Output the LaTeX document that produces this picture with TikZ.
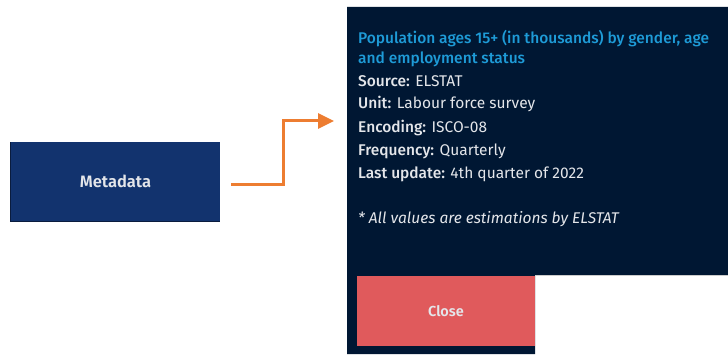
\documentclass[tikz,border=0pt]{standalone}
\usepackage{fontspec}
\setmainfont{Fira Sans}[BoldFont={Fira Sans Medium}, BoldItalicFont={Fira Sans Medium Italic}]
\newfontfamily\semibold{Fira Sans SemiBold}
\usepackage{xcolor}
\usetikzlibrary{arrows.meta,positioning}

\definecolor{navy}{HTML}{001733}
\definecolor{btnblue}{HTML}{12336E}
\definecolor{btnshade}{HTML}{0A1C3E}
\definecolor{closered}{HTML}{E05A5C}
\definecolor{titleblue}{HTML}{1E9BD7}
\definecolor{arroworange}{HTML}{ED7D31}
\definecolor{lighttext}{HTML}{E4E6EA}

\tikzset{
  infoline/.style={anchor=base west, inner sep=0pt, text=lighttext, font=\fontsize{15.5}{18}\selectfont},
  titleline/.style={infoline, text=titleblue, font=\fontsize{15.5}{18}\selectfont\bfseries},
}

\begin{document}
\begin{tikzpicture}[x=1pt,y=1pt]
        \useasboundingbox (0,0) rectangle (728,354);
        % metadata button
        \fill[btnshade] (10,132) rectangle (220,212);
        \node[fill=btnblue, minimum width=209pt, minimum height=78pt, inner sep=0pt,
              text=lighttext, font=\fontsize{16.5}{18}\selectfont\semibold] (meta) at (115.5,172.5) {Metadata};
        % pop-up panel
        \fill[navy] (347,0) -- (347,347) -- (728,347) -- (728,79) -- (535,79) -- (535,0) -- cycle;
        \draw[gray!40] (535,79) -- (728,79);
        \node[titleline] (title1) at (358,310) {Population ages 15+ (in thousands) by gender, age};
        \node[titleline] (title2) at (358,290) {and employment status};
        \node[infoline] (src) at (358,267) {\textbf{Source:} ELSTAT};
        \node[infoline] (unit) at (358,245) {\textbf{Unit:} Labour force survey};
        \node[infoline] (enc) at (358,222) {\textbf{Encoding:} ISCO-08};
        \node[infoline] (freq) at (358,199) {\textbf{Frequency:} Quarterly};
        \node[infoline] (upd) at (358,176) {\textbf{Last update:} 4th quarter of 2022};
        \node[infoline, font=\fontsize{15.5}{18}\selectfont\itshape] (note) at (358,131) {* All values are estimations by ELSTAT};
        \node[fill=closered, minimum width=178pt, minimum height=70pt, inner sep=0pt,
              text=lighttext, font=\fontsize{14.5}{16}\selectfont\semibold] (close) at (446,43) {Close};
        % arrow from button to panel
        \coordinate (tip) at (334,233);
        \draw[arroworange, line width=3pt, -{Triangle[length=16pt,width=15pt]}]
              (231,170) -- (283,170) |- (tip);
    \end{tikzpicture}
\end{document}
